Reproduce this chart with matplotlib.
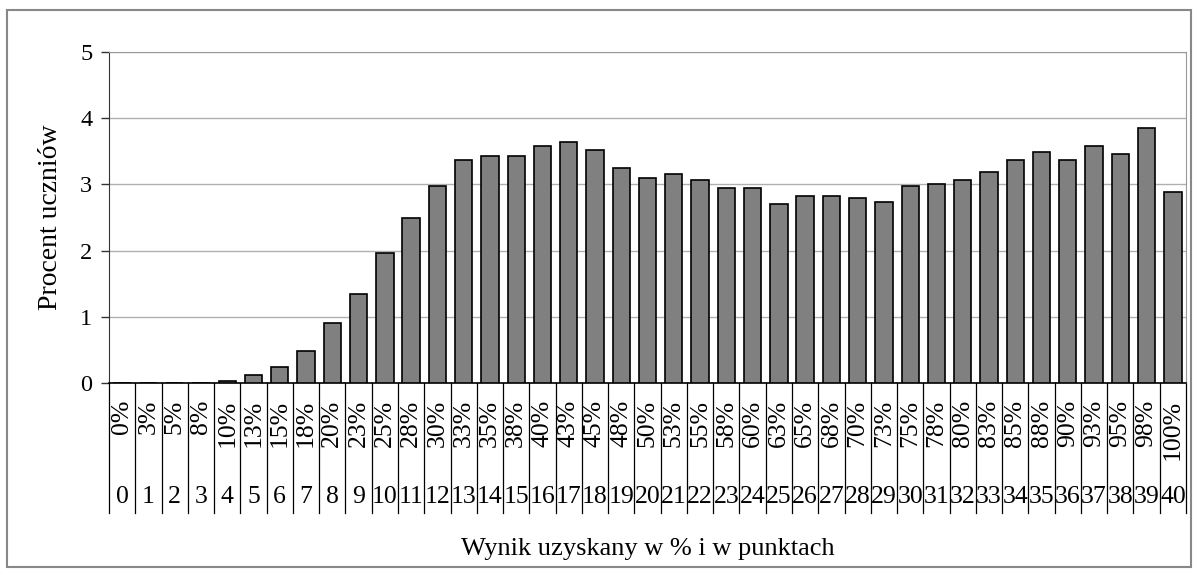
import matplotlib.pyplot as plt
from matplotlib.patches import Rectangle
import matplotlib.transforms as mtransforms

plt.rcParams['font.family'] = ['Liberation Serif', 'DejaVu Serif']

punkty = [str(i) for i in range(41)]
procenty = ['0%', '3%', '5%', '8%', '10%', '13%', '15%', '18%', '20%', '23%',
            '25%', '28%', '30%', '33%', '35%', '38%', '40%', '43%', '45%', '48%',
            '50%', '53%', '55%', '58%', '60%', '63%', '65%', '68%', '70%', '73%',
            '75%', '78%', '80%', '83%', '85%', '88%', '90%', '93%', '95%', '98%',
            '100%']
procent_uczniow = [0.0, 0.0, 0.0, 0.0, 0.03, 0.12, 0.24, 0.49, 0.91, 1.34,
                   1.97, 2.49, 2.98, 3.37, 3.43, 3.43, 3.58, 3.64, 3.52, 3.25,
                   3.10, 3.16, 3.07, 2.95, 2.95, 2.70, 2.82, 2.82, 2.79, 2.73,
                   2.98, 3.01, 3.07, 3.19, 3.37, 3.49, 3.37, 3.58, 3.46, 3.86,
                   2.89]

fig = plt.figure(figsize=(11.98, 5.78), dpi=100)
ax = fig.add_axes([0.091, 0.337, 0.899, 0.573])

# outer frame of the chart
fig.patches.append(Rectangle((0.006, 0.019), 0.988, 0.963, transform=fig.transFigure,
                             fill=False, edgecolor='#888888', linewidth=1.5))

x = list(range(len(punkty)))
ax.bar(x, procent_uczniow, width=0.66, color='#808080', edgecolor='black',
       linewidth=1.2, zorder=3)

ax.set_xlim(-0.5, len(punkty) - 0.5)
ax.set_ylim(0, 5)
ax.set_yticks([0, 1, 2, 3, 4, 5])
ax.tick_params(axis='y', labelsize=17.5, length=6, width=1, color='#333333', pad=6)
ax.set_xticks([])
ax.yaxis.grid(True, color='#b0b0b0', linewidth=1)
ax.set_axisbelow(True)

ax.spines['left'].set_color('#333333')
ax.spines['bottom'].set_color('black')
ax.spines['bottom'].set_linewidth(1.2)
ax.spines['top'].set_color('#999999')
ax.spines['right'].set_color('#999999')

# multi-level category axis
trans = mtransforms.blended_transform_factory(ax.transData, ax.transAxes)
for i in range(len(punkty) + 1):
    ax.plot([i - 0.5, i - 0.5], [0, -0.393], transform=trans, color='black',
            linewidth=0.9, clip_on=False)
for i in x:
    ax.text(i, -0.051, procenty[i], transform=trans, rotation=90, ha='center',
            va='top', fontsize=18.5)
    ax.text(i, -0.344, punkty[i], transform=trans, ha='center', va='center',
            fontsize=18.5)

ax.set_ylabel('Procent uczniów', fontsize=20, labelpad=12)
ax.text(0.5, -0.5, 'Wynik uzyskany w % i w punktach', transform=ax.transAxes,
        ha='center', va='center', fontsize=19)

fig.savefig('out.png', dpi=100)
